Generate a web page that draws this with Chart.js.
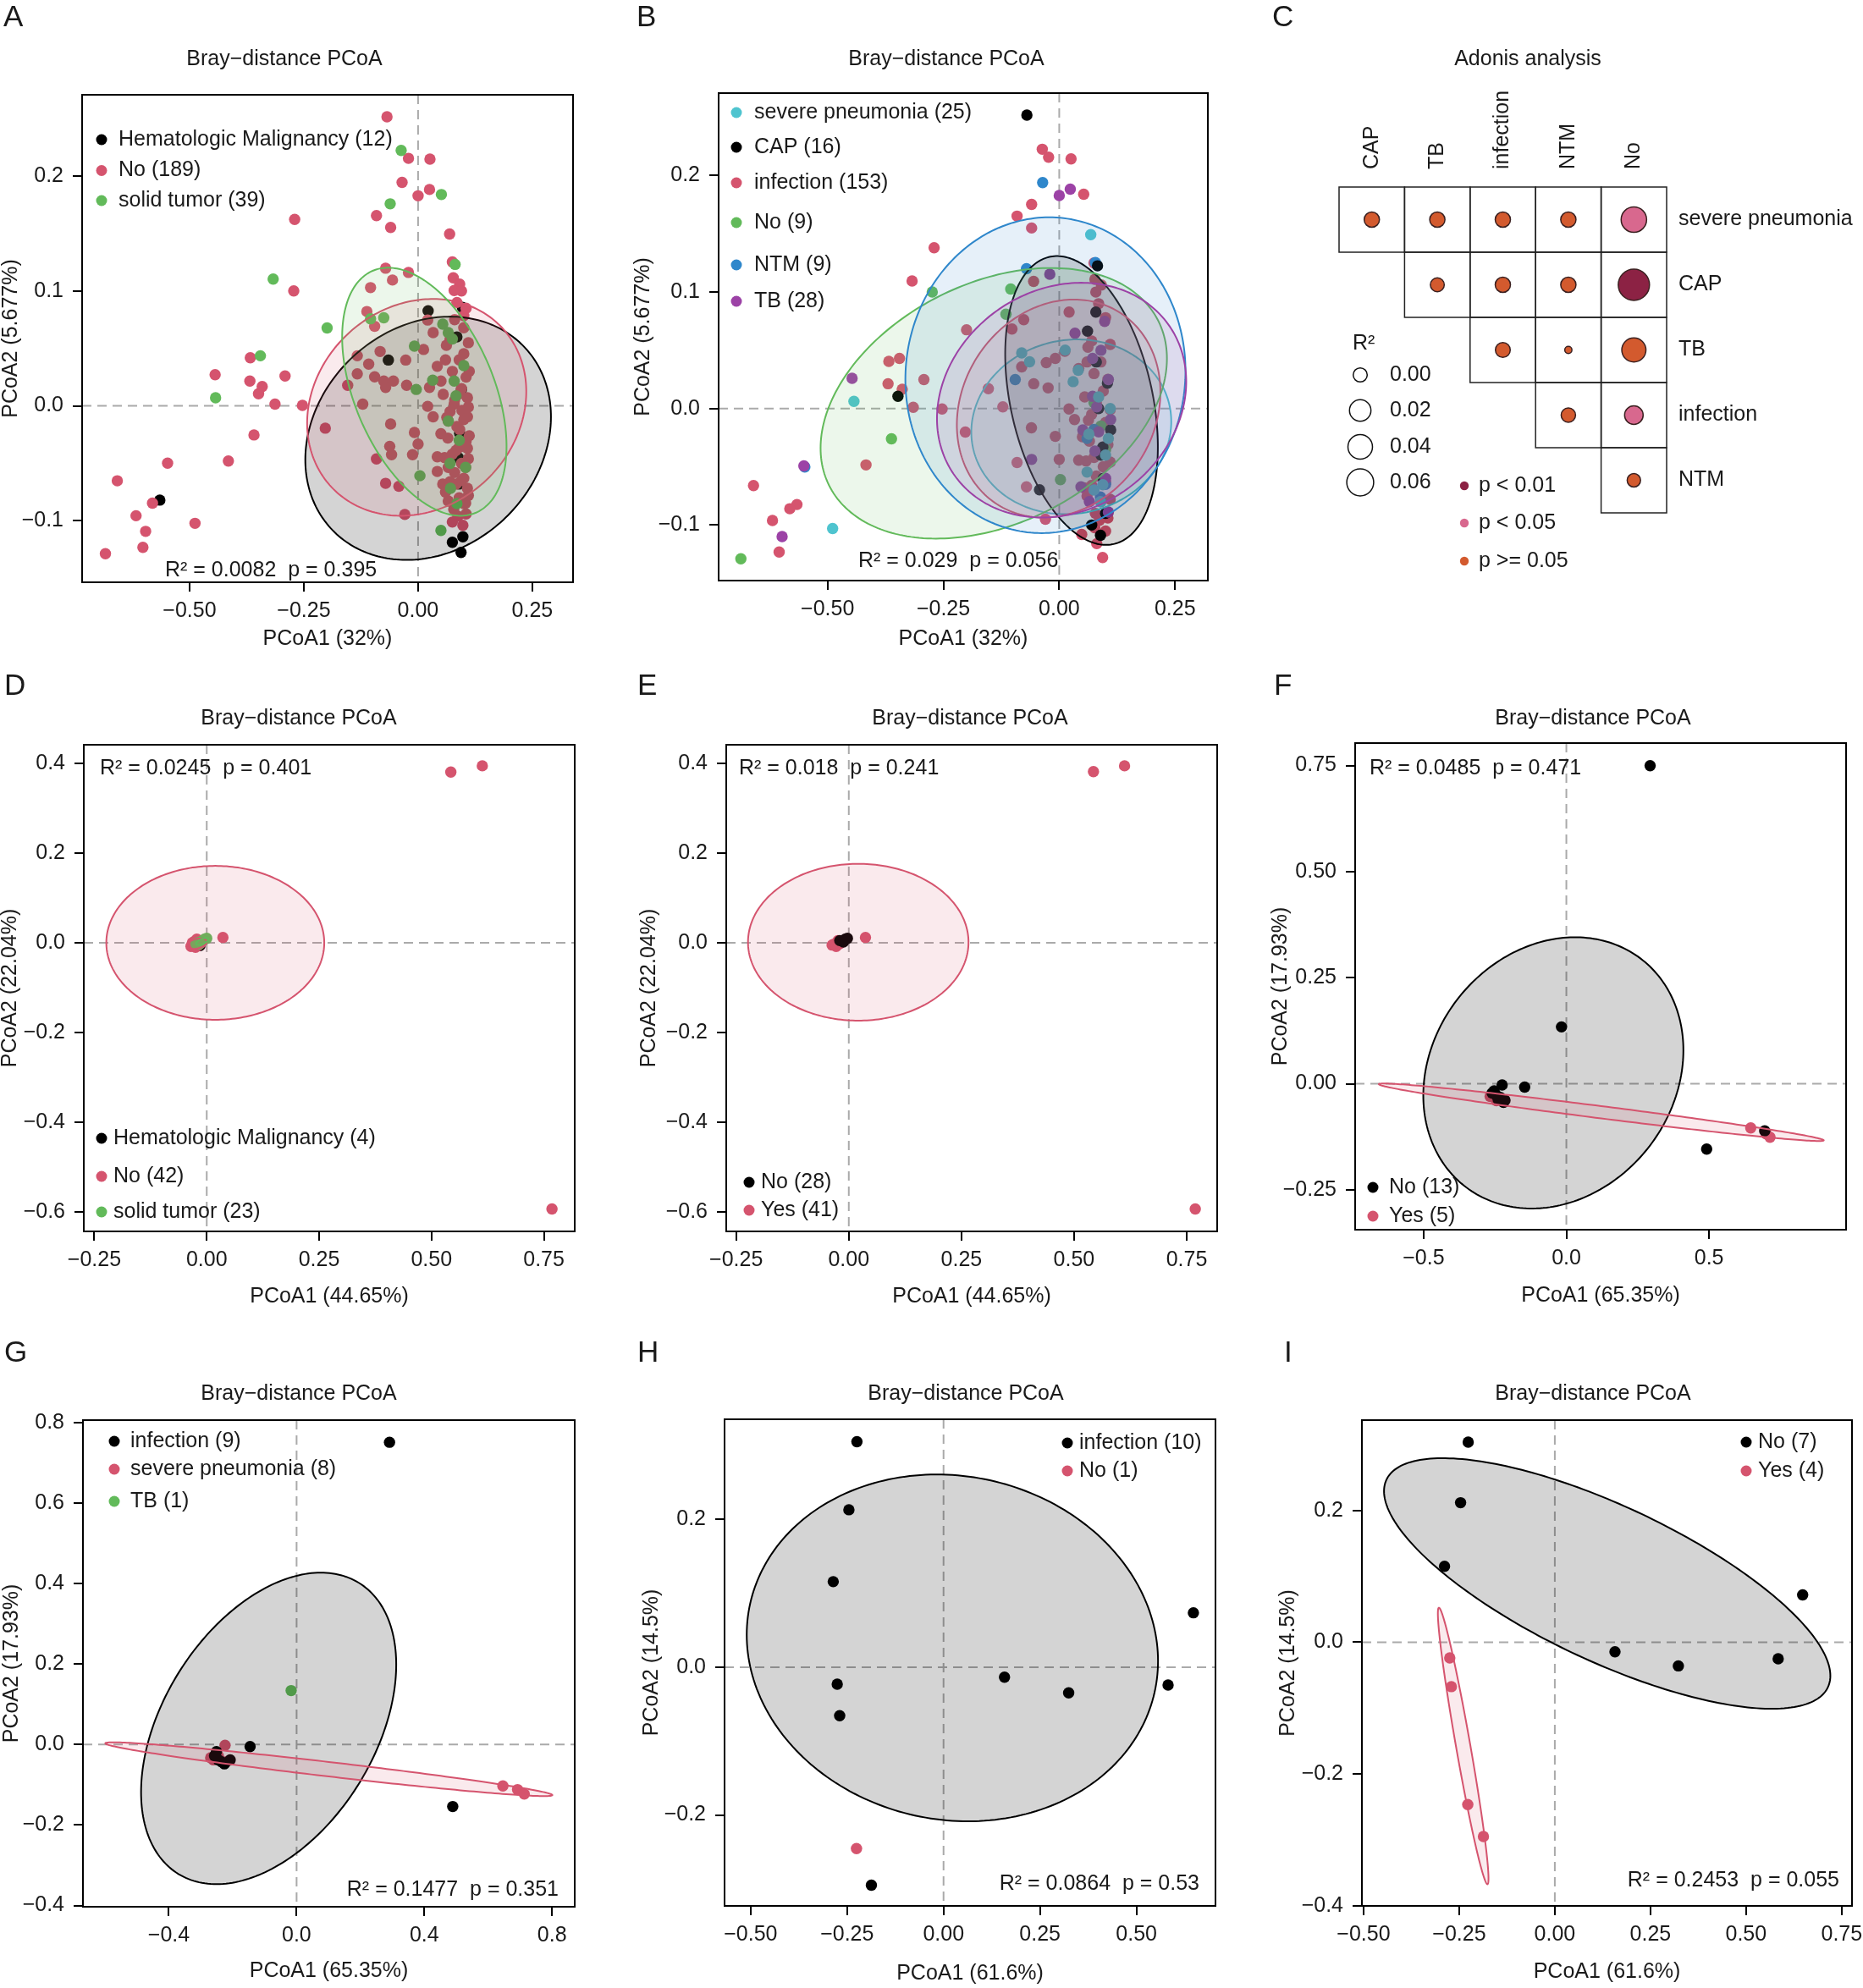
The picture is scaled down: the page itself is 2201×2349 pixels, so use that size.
<!DOCTYPE html>
<html>
<head>
<meta charset="utf-8">
<script src="https://cdn.jsdelivr.net/npm/chart.js@4.4.1/dist/chart.umd.min.js"></script>
<style>
html,body{margin:0;padding:0;background:#fff;overflow:hidden}
#page{position:relative;width:2201px;height:2349px;overflow:hidden;background:#fff}
canvas{position:absolute}
</style>
</head>
<body>
<div id="page"></div>
<script>
// ================= DATA =================
// colours
const C_BLACK = '#000000', C_RED = '#D5546E', C_GREEN = '#62BA5A', C_CYAN = '#4FC4CF', C_BLUE = '#2F87CB', C_PURPLE = '#9C42A6';

// ---- Panel A ----
const A_groups = ['Hematologic Malignancy', 'No', 'solid tumor'];
const A_counts = [12, 189, 39];
const A_HM = [[0.022,0.0828],[0.097,0.0857],[-0.065,0.0399],[-0.565,-0.082],[0.075,-0.1187],[0.098,-0.1139],[0.094,-0.1275],[0.095,0.0143],[0.091,-0.024],[0.09,-0.068],[0.088,-0.045],[0.085,0.06]];
const A_No = [[-0.068,0.2516],[-0.021,0.2154],[0.026,0.2147],[-0.035,0.1945],[0.025,0.1883],[0,0.1828],[-0.091,0.1656],[-0.06,0.1553],[-0.27,0.1623],[0.069,0.1495],[0.075,0.1253],[-0.071,0.1198],[-0.021,0.1161],[-0.056,0.1095],[0.077,0.1114],[0.091,0.1059],[0.079,0.1004],[-0.272,0.1],[-0.104,0.1029],[-0.112,0.0821],[-0.095,0.0692],[0.021,0.0747],[0.1,0.0784],[0.033,0.0637],[-0.083,0.0473],[-0.133,0.0436],[-0.108,0.0363],[-0.027,0.0399],[0.012,0.0491],[0.062,0.0527],[0.1,0.0454],[0.042,0.0344],[-0.133,0.0278],[-0.095,0.0253],[-0.075,0.0216],[-0.054,0.0216],[-0.071,0.0161],[-0.154,0.0179],[-0.025,0.0179],[0.025,0.0161],[0.05,0.0216],[0.091,0.0106],[0.108,0.007],[-0.121,0.0015],[0.021,-0.0004],[0.079,0.0015],[0.096,-0.004],[0.033,-0.0095],[0.066,-0.0132],[0.108,-0.0095],[-0.06,-0.0158],[-0.008,-0.0231],[0.05,-0.0242],[0.091,-0.0205],[0.112,-0.026],[-0.062,-0.0352],[0,-0.0333],[-0.012,-0.0425],[0.042,-0.0443],[0.083,-0.0388],[-0.091,-0.0462],[-0.058,-0.0425],[0.108,-0.037],[0.042,-0.0571],[0.066,-0.0535],[0.104,-0.0535],[-0.071,-0.0674],[-0.042,-0.07],[0.054,-0.0681],[0.083,-0.0681],[0.108,-0.0718],[0.066,-0.0828],[0.104,-0.0846],[-0.029,-0.0945],[0.075,-0.1011],[0.098,-0.104],[-0.203,-0.0194],[-0.253,0.0004],[-0.313,0.0015],[-0.291,0.026],[-0.368,0.0216],[-0.341,0.0168],[-0.349,0.0106],[-0.367,0.0418],[-0.444,0.0271],[-0.359,-0.0253],[-0.415,-0.048],[-0.548,-0.0498],[-0.658,-0.0652],[-0.581,-0.0846],[-0.617,-0.0956],[-0.596,-0.1092],[-0.602,-0.1231],[-0.488,-0.1022],[-0.684,-0.1286],
 [0.085,0.09],[0.1,0.068],[0.07,0.058],[0.11,0.055],[0.09,0.04],[0.075,0.03],[0.105,0.025],[0.095,0.015],[0.08,0.005],[0.11,-0.001],[0.07,-0.005],[0.1,-0.012],[0.085,-0.018],[0.065,-0.028],[0.105,-0.031],[0.09,-0.036],[0.075,-0.042],[0.11,-0.046],[0.095,-0.05],[0.08,-0.058],[0.1,-0.063],[0.07,-0.066],[0.11,-0.078],[0.09,-0.08],[0.078,-0.09],[0.105,-0.094],[0.087,-0.096],[0.06,-0.075],[0.058,-0.045],[0.063,-0.01],[0.055,0.01],[0.06,0.04],[0.095,0.1],[0.105,0.085],[0.08,0.075],[0.112,0.03],[0.095,-0.065],[0.1,-0.085]];
const A_ST = [[-0.037,0.2223],[0.051,0.1839],[-0.061,0.1758],[0.081,0.1231],[-0.317,0.1103],[-0.199,0.0678],[-0.345,0.0436],[-0.443,0.007],[-0.104,0.0758],[-0.075,0.0766],[0.054,0.0711],[0.066,0.0637],[0.075,0.0582],[-0.008,0.052],[0.032,0.0223],[0.079,0.0216],[-0.004,0.0143],[0.004,-0.0608],[0.05,-0.1084],[0.104,-0.0535],[0.071,-0.0718],[0.083,0.0088],[0.066,-0.0132],[0.1,0.035],[0.09,-0.03],[0.07,-0.05],[0.085,-0.085]];
// ellipses: [centre x, centre y, conjugate semi-axis u (x,y), conjugate semi-axis v (x,y)] in data units
const A_ellHM = [0.022, -0.0282, 0.2687, 0.0187, 0, 0.1042];
const A_ellNo = [-0.003, -0.0013, 0.2397, 0.0138, 0, 0.0933];
const A_ellST = [0.0137, 0.0123, 0.1798, -0.0475, 0, 0.0969];
const A_xTicks = [-0.5, -0.25, 0, 0.25];
const A_yTicks = [-0.1, 0, 0.1, 0.2];
const A_stat = [0.0082, 0.395];

// ---- Panel B ----
const B_groups = ['severe pneumonia', 'CAP', 'infection', 'No', 'NTM', 'TB'];
const B_counts = [25, 16, 153, 9, 9, 28];
const B_SP = [[0.068,0.1493],[-0.443,0.0061],[-0.489,-0.103],[0.0128,0.0502],[-0.081,0.0477],[-0.064,0.0401],[0.041,0.0329],[0.03,0.0231],[0.064,-0.022],[0.106,-0.0257],[0.06,-0.0546],[0.094,-0.0654],[0.089,-0.0799],[0.1,-0.04],[0.075,-0.07],[0.11,0.0],[0.085,0.01]];
const B_CAP = [[-0.0698,0.2519],[0.0826,0.1225],[-0.348,0.0105],[-0.0426,-0.0698],[0.104,0.0217],[0.079,0.0828],[0.061,0.0665],[0.111,-0.0184],[0.094,-0.033],[0.089,-0.1088],[0.09,-0.04],[0.1,-0.09],[0.08,0.04],[0.095,-0.06],[0.085,0.0],[0.07,-0.1]];
const B_Inf = [[-0.0366,0.2226],[-0.023,0.2158],[0.0255,0.2143],[0.0528,0.184],[-0.0596,0.1753],[-0.091,0.1652],[-0.0596,0.155],[-0.27,0.138],[-0.3175,0.1095],[-0.0553,0.1091],[-0.2,0.0676],[-0.0766,0.0763],[-0.102,0.0683],[0.0213,0.0828],[-0.3677,0.0405],[-0.3447,0.043],[-0.292,0.0249],[-0.3694,0.0213],[-0.3388,0.0166],[-0.315,0.0011],[-0.2528,-0.0004],[-0.1217,0.0014],[-0.153,0.017],[-0.2026,-0.0202],[-0.081,0.0358],[-0.055,0.0213],[-0.024,0.0177],[-0.0085,0.043],[-0.028,0.0394],[-0.06,-0.0166],[-0.0085,-0.0239],[-0.091,-0.0463],[-0.0707,-0.0672],[-0.0298,-0.095],[0,-0.0437],[-0.417,-0.0484],[-0.6597,-0.0661],[-0.566,-0.0824],[-0.5814,-0.086],[-0.6188,-0.0961],[-0.6044,-0.1232],[0.0485,-0.1081],[0.0766,-0.1023],[0.1,-0.1052],[0.0936,-0.1279],[0.081,-0.116],
 [0.075,0.125],[0.077,0.111],[0.091,0.106],[0.079,0.1],[0.085,0.09],[0.1,0.078],[0.07,0.058],[0.11,0.055],[0.09,0.04],[0.062,0.0527],[0.075,0.03],[0.105,0.025],[0.095,0.015],[0.08,0.005],[0.11,-0.001],[0.07,-0.005],[0.1,-0.012],[0.085,-0.018],[0.065,-0.028],[0.105,-0.031],[0.09,-0.036],[0.075,-0.042],[0.11,-0.046],[0.095,-0.05],[0.08,-0.058],[0.1,-0.063],[0.07,-0.066],[0.11,-0.078],[0.09,-0.08],[0.078,-0.09],[0.105,-0.094],[0.087,-0.096],[0.06,-0.075],[0.058,-0.045],[0.063,-0.01],[0.055,0.01],[0.06,0.04],[0.042,0.0344],[0.033,-0.0095],[0.05,-0.0242],[0.042,-0.0443],[0.054,-0.0681],[0.021,-0.0004],[0.012,0.0491]];
const B_No = [[-0.274,0.1001],[-0.1047,0.1026],[-0.115,0.081],[-0.362,-0.026],[0.0026,-0.0611],[-0.687,-0.129],[0.09,-0.015],[0.075,0.005],[0.1,-0.035]];
const B_NTM = [[-0.0358,0.194],[-0.0707,0.12],[0.078,0.1254],[-0.095,0.0249],[-0.549,-0.0502],[0.089,-0.076],[0.06,-0.0257],[0.075,-0.018],[0.1,-0.065]];
const B_TB = [[0,0.1829],[0.0238,0.1883],[-0.0204,0.1153],[-0.447,0.026],[-0.551,-0.0492],[-0.598,-0.1099],[0.098,0.0748],[0.072,0.043],[0.034,0.0647],[0.106,0.0249],[0.072,0.0105],[0.081,0.0014],[0.111,-0.0094],[0.051,-0.0184],[-0.0596,-0.0437],[0.047,-0.0672],[0.106,-0.0889],[0.077,-0.0365],[0.09,0.05],[0.1,-0.06],[0.085,-0.02],[0.065,-0.08]];
const B_ellSP = [0.026, -0.0157, 0.2157, 0.0045, 0, 0.0749];
const B_ellCAP = [0.0481, 0.0069, 0.1647, -0.0398, 0, 0.1174];
const B_ellInf = [-0.0013, 0, 0.2196, 0.0141, 0, 0.0925];
const B_ellNo = [-0.1413, 0.0045, 0.3737, 0.0385, 0, 0.1096];
const B_ellNTM = [-0.0298, 0.0286, 0.3022, 0.0036, 0, 0.1355];
const B_ellTB = [0.0051, 0.0072, 0.2689, 0.0159, 0, 0.0995];
const B_stat = [0.029, 0.056];

// ---- Panel C (Adonis) ----
const C_rows = ['severe pneumonia', 'CAP', 'TB', 'infection', 'NTM'];
const C_cols = ['CAP', 'TB', 'infection', 'NTM', 'No'];
const C_R2 = [
  [0.012, 0.012, 0.012, 0.012, 0.048],
  [null, 0.009, 0.012, 0.012, 0.079],
  [null, null, 0.011, 0.0005, 0.042],
  [null, null, null, 0.010, 0.021],
  [null, null, null, null, 0.008]];
const C_sig = [
  ['ns', 'ns', 'ns', 'ns', 'p05'],
  [null, 'ns', 'ns', 'ns', 'p01'],
  [null, null, 'ns', 'ns', 'ns'],
  [null, null, null, 'ns', 'p05'],
  [null, null, null, null, 'ns']];
const C_legR2 = [0.00, 0.02, 0.04, 0.06];
const C_legP = ['p < 0.01', 'p < 0.05', 'p >= 0.05'];
const C_legPkeys = ['p01', 'p05', 'ns'];

// ---- Panel D ----
const D_groups = ['Hematologic Malignancy', 'No', 'solid tumor'];
const D_counts = [4, 42, 23];
const D_HM = [[-0.025,-0.004],[-0.02,0.0],[-0.015,-0.006],[-0.028,0.002]];
const D_No = [[0.543,0.381],[0.613,0.395],[0.768,-0.594],[0.036,0.012],[-0.035,-0.008],[-0.03,-0.004],[-0.027,0.003],[-0.022,0.008],[-0.018,0.004],[-0.025,-0.01],[-0.015,-0.002],[-0.032,0.0],[-0.02,-0.006],[-0.012,0.001]];
const D_ST = [[-0.005,0.008],[0.0,0.01],[-0.012,0.003],[-0.02,0.0],[-0.017,-0.003],[-0.008,0.005],[-0.024,-0.002]];
const D_ellNo = [0.019, 0.0, 0.2424, 0, 0, 0.1717];
const D_ellNoCore = [-0.022, -0.002, 0.022, 0.004, 0, 0.011];
const D_ellST = [-0.01, 0.003, 0.014, 0.005, 0, 0.006];
const D_xTicks = [-0.25, 0, 0.25, 0.5, 0.75];
const D_yTicks = [-0.6, -0.4, -0.2, 0, 0.2, 0.4];
const D_stat = [0.0245, 0.401];

// ---- Panel E ----
const E_groups = ['No', 'Yes'];
const E_counts = [28, 41];
const E_No = [[-0.003,0.01],[-0.02,0.005],[-0.012,0.002],[-0.008,0.008]];
const E_Yes = [[0.543,0.382],[0.612,0.395],[0.769,-0.594],[0.037,0.012],[-0.033,-0.003],[-0.024,0.005],[-0.037,-0.005],[-0.028,-0.008],[-0.02,-0.002]];
const E_ellYes = [0.021, 0.0014, 0.2447, 0, 0, 0.175];
const E_ellNo = [-0.012, 0.004, 0.014, 0.004, 0, 0.007];
const E_stat = [0.018, 0.241];

// ---- Panel F ----
const F_groups = ['No', 'Yes'];
const F_counts = [13, 5];
const F_No = [[0.2935,0.7495],[-0.017,0.134],[-0.225,-0.003],[-0.146,-0.008],[-0.253,-0.017],[-0.239,-0.037],[-0.22,-0.044],[-0.246,-0.027],[0.4916,-0.154],[0.695,-0.111],[-0.232,-0.032],[-0.26,-0.022],[-0.215,-0.039]];
const F_Yes = [[-0.267,-0.030],[-0.245,-0.04],[0.646,-0.104],[0.70,-0.118],[0.7135,-0.126]];
const F_ellNo = [-0.0456, 0.0256, 0.4556, 0.0534, 0, 0.3152];
const F_ellYes = [0.1223, -0.0672, 0.7795, -0.0662, 0, 0.0145];
const F_xTicks = [-0.5, 0, 0.5];
const F_yTicks = [-0.25, 0, 0.25, 0.5, 0.75];
const F_stat = [0.0485, 0.471];

// ---- Panel G ----
const G_groups = ['infection', 'severe pneumonia', 'TB'];
const G_counts = [9, 8, 1];
const G_Inf = [[0.291,0.751],[0.489,-0.154],[-0.1456,-0.005],[-0.251,-0.0175],[-0.245,-0.038],[-0.226,-0.048],[-0.208,-0.038],[-0.257,-0.028],[-0.235,-0.043]];
const G_SP = [[-0.224,-0.002],[-0.269,-0.033],[0.646,-0.103],[0.692,-0.112],[0.713,-0.123],[-0.245,-0.028],[-0.26,-0.038],[-0.22,-0.043]];
const G_TB = [[-0.017,0.134]];
const G_ellInf = [-0.0875, 0.0401, 0.3995, 0.1585, 0, 0.353];
const G_ellSP = [0.101, -0.0613, 0.7, -0.0643, 0, 0.018];
const G_xTicks = [-0.4, 0, 0.4, 0.8];
const G_yTicks = [-0.4, -0.2, 0, 0.2, 0.4, 0.6, 0.8];
const G_stat = [0.1477, 0.351];

// ---- Panel H ----
const H_groups = ['infection', 'No'];
const H_counts = [10, 1];
const H_Inf = [[-0.2245,0.305],[-0.2453,0.213],[-0.2859,0.1157],[-0.2755,-0.023],[-0.2692,-0.0657],[-0.187,-0.295],[0.158,-0.0135],[0.3243,-0.0348],[0.582,-0.0242],[0.6476,0.0736]];
const H_No = [[-0.2256,-0.2455]];
const H_ellInf = [0.0229, 0.0261, 0.533, -0.0177, 0, 0.2339];
const H_xTicks = [-0.5, -0.25, 0, 0.25, 0.5];
const H_yTicks = [-0.2, 0, 0.2];
const H_stat = [0.0864, 0.53];

// ---- Panel I ----
const I_groups = ['No', 'Yes'];
const I_counts = [7, 4];
const I_No = [[-0.2265,0.3035],[-0.2464,0.2116],[-0.2884,0.1152],[0.1573,-0.0145],[0.323,-0.0359],[0.584,-0.0252],[0.648,0.0718]];
const I_Yes = [[-0.2747,-0.0239],[-0.2705,-0.0674],[-0.2276,-0.2462],[-0.1867,-0.2947]];
const I_ellNo = [0.1369, 0.0891, 0.5835, -0.14, 0, 0.1285];
const I_ellYes = [-0.2396, -0.1574, -0.0634, 0.2097, 0.019, 0];
const I_xTicks = [-0.5, -0.25, 0, 0.25, 0.5, 0.75];
const I_yTicks = [-0.4, -0.2, 0, 0.2];
const I_stat = [0.2453, 0.055];

// ================= RENDERING =================
const FONT = '"Liberation Sans", Arial, Helvetica, sans-serif';
const TXT = '#1a1a1a';
const PT_R = 6.7;
Chart.defaults.font.family = FONT;
Chart.defaults.font.size = 25;
Chart.defaults.color = TXT;

function fmt(v, d) { const s = Math.abs(v).toFixed(d); return (v < -1e-9 ? '\u2212' : '') + s; }
function rgba(hex, a) { const n = parseInt(hex.slice(1), 16); return 'rgba(' + ((n >> 16) & 255) + ',' + ((n >> 8) & 255) + ',' + (n & 255) + ',' + a + ')'; }
function statText(s) { return 'R\u00B2 = ' + s[0] + '  p = ' + s[1]; }
function addCanvas(x, y, w, h) {
  const cv = document.createElement('canvas');
  cv.width = w; cv.height = h;
  cv.style.left = x + 'px'; cv.style.top = y + 'px';
  cv.style.width = w + 'px'; cv.style.height = h + 'px';
  document.getElementById('page').appendChild(cv);
  return cv;
}

function decor(p) {
  const cx = p.canvas[0], cy = p.canvas[1];
  return {
    id: 'decor',
    beforeDatasetsDraw(chart) {
      const ctx = chart.ctx, ca = chart.chartArea, xs = chart.scales.x, ys = chart.scales.y;
      ctx.save();
      ctx.setLineDash([11, 7]); ctx.strokeStyle = '#aaaaaa'; ctx.lineWidth = 2;
      const x0 = xs.getPixelForValue(0), y0 = ys.getPixelForValue(0);
      ctx.beginPath();
      ctx.moveTo(x0, ca.top); ctx.lineTo(x0, ca.bottom);
      ctx.moveTo(ca.left, y0); ctx.lineTo(ca.right, y0);
      ctx.stroke();
      ctx.restore();
    },
    afterDatasetsDraw(chart) {
      const ctx = chart.ctx, ca = chart.chartArea, xs = chart.scales.x, ys = chart.scales.y;
      ctx.save();
      ctx.beginPath(); ctx.rect(ca.left, ca.top, ca.width, ca.height); ctx.clip();
      for (const e of p.ellipses) {
        const [ex, ey, ux, uy, vx, vy] = e.par;
        ctx.beginPath();
        for (let i = 0; i <= 240; i++) {
          const t = i / 240 * 2 * Math.PI, c = Math.cos(t), s = Math.sin(t);
          const X = xs.getPixelForValue(ex + ux * c + vx * s);
          const Y = ys.getPixelForValue(ey + uy * c + vy * s);
          if (i === 0) ctx.moveTo(X, Y); else ctx.lineTo(X, Y);
        }
        ctx.closePath();
        ctx.fillStyle = rgba(e.color, e.alpha); ctx.fill();
        ctx.strokeStyle = e.color; ctx.lineWidth = 2; ctx.stroke();
      }
      ctx.restore();
    },
    afterDraw(chart) {
      const ctx = chart.ctx, ca = chart.chartArea;
      ctx.save();
      ctx.strokeStyle = '#000'; ctx.lineWidth = 2;
      ctx.strokeRect(ca.left, ca.top, ca.width, ca.height);
      ctx.fillStyle = TXT;
      // title
      ctx.font = '25px ' + FONT; ctx.textAlign = 'center'; ctx.textBaseline = 'middle';
      ctx.fillText('Bray\u2212distance PCoA', p.title[0] - cx, p.title[1] - cy);
      // letter
      ctx.font = '35px ' + FONT; ctx.textAlign = 'left'; ctx.textBaseline = 'alphabetic';
      ctx.fillText(p.letter[0], p.letter[1] - cx, p.letter[2] - cy);
      // statistic
      ctx.font = '25px ' + FONT; ctx.textAlign = p.stat.align; ctx.textBaseline = 'middle';
      ctx.fillText(statText(p.stat.v), p.stat.x - cx, p.stat.y - cy);
      // legend
      ctx.textAlign = 'left';
      p.groups.forEach((g, i) => {
        const y = p.legend.ys[i] - cy;
        ctx.fillStyle = g.color; ctx.beginPath();
        ctx.arc(p.legend.dotX - cx, y, 6.5, 0, 2 * Math.PI); ctx.fill();
        ctx.fillStyle = TXT;
        ctx.fillText(g.name + ' (' + g.count + ')', p.legend.textX - cx, y);
      });
      ctx.restore();
    }
  };
}

function pcoa(p) {
  const [cx, cy, cw, ch] = p.canvas;
  const [bl, bt, bw, bh] = p.box;
  const cv = addCanvas(cx, cy, cw, ch);
  const yW = bl - cx, xH = (cy + ch) - (bt + bh);
  const tickFont = { size: 25, family: FONT };
  new Chart(cv, {
    type: 'scatter',
    data: {
      datasets: p.groups.map(g => ({
        label: g.name, data: g.data, backgroundColor: g.color, borderWidth: 0,
        pointRadius: PT_R, pointHoverRadius: PT_R, order: g.order
      }))
    },
    options: {
      responsive: false, animation: false, events: [], devicePixelRatio: 1,
      layout: { padding: { left: 0, top: bt - cy, right: (cx + cw) - (bl + bw), bottom: 0 } },
      plugins: { legend: { display: false }, tooltip: { enabled: false }, title: { display: false } },
      scales: {
        x: {
          type: 'linear', position: 'bottom', min: p.xr[0], max: p.xr[1],
          afterBuildTicks: s => { s.ticks = p.xt.map(v => ({ value: v })); },
          afterFit: s => { s.height = xH; },
          ticks: { callback: v => fmt(v, p.xd), font: tickFont, color: TXT, padding: 8, maxRotation: 0, minRotation: 0, autoSkip: false },
          grid: { display: true, drawOnChartArea: false, drawTicks: true, tickLength: 11, color: '#000', tickColor: '#000', lineWidth: 2, tickWidth: 2 },
          border: { display: false },
          title: { display: true, text: p.xTitle, font: tickFont, color: TXT, padding: { top: 0, bottom: (cy + ch) - p.xTitleY - 15 } }
        },
        y: {
          type: 'linear', position: 'left', min: p.yr[0], max: p.yr[1],
          afterBuildTicks: s => { s.ticks = p.yt.map(v => ({ value: v })); },
          afterFit: s => { s.width = yW; },
          ticks: { callback: v => fmt(v, p.yd), font: tickFont, color: TXT, padding: 11, autoSkip: false },
          grid: { display: true, drawOnChartArea: false, drawTicks: true, tickLength: 11, color: '#000', tickColor: '#000', lineWidth: 2, tickWidth: 2 },
          border: { display: false },
          title: { display: true, text: p.yTitle, font: tickFont, color: TXT, padding: { top: p.yTitleX - cx - 15, bottom: 0 } }
        }
      }
    },
    plugins: [decor(p)]
  });
}

function grp(names, counts, datas, colors, orders) {
  return names.map((n, i) => ({ name: n, count: counts[i], data: datas[i], color: colors[i], order: orders[i] }));
}
const GRAY_A = 0.17, COL_A = 0.12;

// Panel A
pcoa({
  canvas: [-20, 0, 780, 790], box: [97, 112, 580, 576],
  xr: [-0.735, 0.339], yr: [-0.1535, 0.2707], xt: A_xTicks, yt: A_yTicks, xd: 2, yd: 1,
  xTitle: 'PCoA1 (32%)', yTitle: 'PCoA2 (5.677%)', xTitleY: 755, yTitleX: 13,
  title: [336, 70], letter: ['A', 4, 31],
  stat: { v: A_stat, x: 195, y: 674, align: 'left' },
  legend: { dotX: 120, textX: 140, ys: [165, 201.5, 237] },
  groups: grp(A_groups, A_counts, [A_HM, A_No, A_ST], [C_BLACK, C_RED, C_GREEN], [3, 2, 1]),
  ellipses: [{ par: A_ellHM, color: C_BLACK, alpha: GRAY_A }, { par: A_ellNo, color: C_RED, alpha: COL_A }, { par: A_ellST, color: C_GREEN, alpha: COL_A }]
});

// Panel B
pcoa({
  canvas: [710, 0, 780, 790], box: [849, 110, 578, 576],
  xr: [-0.735, 0.3207], yr: [-0.1477, 0.2708], xt: A_xTicks, yt: A_yTicks, xd: 2, yd: 1,
  xTitle: 'PCoA1 (32%)', yTitle: 'PCoA2 (5.677%)', xTitleY: 755, yTitleX: 760,
  title: [1118, 70], letter: ['B', 752, 31],
  stat: { v: B_stat, x: 1014, y: 663, align: 'left' },
  legend: { dotX: 870, textX: 891, ys: [133, 174, 216, 263, 313, 356] },
  groups: grp(B_groups, B_counts, [B_SP, B_CAP, B_Inf, B_No, B_NTM, B_TB], [C_CYAN, C_BLACK, C_RED, C_GREEN, C_BLUE, C_PURPLE], [1, 2, 5, 3, 2, 1]),
  ellipses: [{ par: B_ellSP, color: C_CYAN, alpha: COL_A }, { par: B_ellCAP, color: C_BLACK, alpha: GRAY_A }, { par: B_ellInf, color: C_RED, alpha: COL_A },
             { par: B_ellNo, color: C_GREEN, alpha: COL_A }, { par: B_ellNTM, color: C_BLUE, alpha: COL_A }, { par: B_ellTB, color: C_PURPLE, alpha: COL_A }]
});

// Panel D
pcoa({
  canvas: [-20, 790, 780, 790], box: [99, 880, 580, 575],
  xr: [-0.2735, 0.8186], yr: [-0.644, 0.442], xt: D_xTicks, yt: D_yTicks, xd: 2, yd: 1,
  xTitle: 'PCoA1 (44.65%)', yTitle: 'PCoA2 (22.04%)', xTitleY: 1532, yTitleX: 12,
  title: [353, 849], letter: ['D', 5, 821],
  stat: { v: D_stat, x: 118, y: 908, align: 'left' },
  legend: { dotX: 120, textX: 134, ys: [1345, 1390, 1432] },
  groups: grp(D_groups, D_counts, [D_HM, D_No, D_ST], [C_BLACK, C_RED, C_GREEN], [3, 2, 1]),
  ellipses: [{ par: D_ellNo, color: C_RED, alpha: COL_A }, { par: D_ellNoCore, color: C_RED, alpha: COL_A }, { par: D_ellST, color: C_GREEN, alpha: COL_A }]
});

// Panel E
pcoa({
  canvas: [710, 790, 780, 790], box: [858, 880, 580, 575],
  xr: [-0.272, 0.8176], yr: [-0.644, 0.442], xt: D_xTicks, yt: D_yTicks, xd: 2, yd: 1,
  xTitle: 'PCoA1 (44.65%)', yTitle: 'PCoA2 (22.04%)', xTitleY: 1532, yTitleX: 767,
  title: [1146, 849], letter: ['E', 753, 821],
  stat: { v: E_stat, x: 873, y: 908, align: 'left' },
  legend: { dotX: 885, textX: 899, ys: [1397, 1430] },
  groups: grp(E_groups, E_counts, [E_No, E_Yes], [C_BLACK, C_RED], [1, 2]),
  ellipses: [{ par: E_ellNo, color: C_BLACK, alpha: GRAY_A }, { par: E_ellYes, color: C_RED, alpha: COL_A }]
});

// Panel F
pcoa({
  canvas: [1440, 790, 780, 790], box: [1601, 878, 580, 575],
  xr: [-0.740, 0.980], yr: [-0.344, 0.803], xt: F_xTicks, yt: F_yTicks, xd: 1, yd: 2,
  xTitle: 'PCoA1 (65.35%)', yTitle: 'PCoA2 (17.93%)', xTitleY: 1531, yTitleX: 1513,
  title: [1882, 849], letter: ['F', 1505, 821],
  stat: { v: F_stat, x: 1618, y: 908, align: 'left' },
  legend: { dotX: 1622, textX: 1641, ys: [1403, 1437] },
  groups: grp(F_groups, F_counts, [F_No, F_Yes], [C_BLACK, C_RED], [1, 2]),
  ellipses: [{ par: F_ellNo, color: C_BLACK, alpha: GRAY_A }, { par: F_ellYes, color: C_RED, alpha: COL_A }]
});

// Panel G
pcoa({
  canvas: [-20, 1580, 780, 769], box: [98, 1678, 581, 575],
  xr: [-0.669, 0.871], yr: [-0.403, 0.806], xt: G_xTicks, yt: G_yTicks, xd: 1, yd: 1,
  xTitle: 'PCoA1 (65.35%)', yTitle: 'PCoA2 (17.93%)', xTitleY: 2329, yTitleX: 14,
  title: [353, 1647], letter: ['G', 5, 1609],
  stat: { v: G_stat, x: 660, y: 2233, align: 'right' },
  legend: { dotX: 135, textX: 154, ys: [1703, 1736, 1774] },
  groups: grp(G_groups, G_counts, [G_Inf, G_SP, G_TB], [C_BLACK, C_RED, C_GREEN], [1, 2, 0]),
  ellipses: [{ par: G_ellInf, color: C_BLACK, alpha: GRAY_A }, { par: G_ellSP, color: C_RED, alpha: COL_A }]
});

// Panel H
pcoa({
  canvas: [710, 1580, 780, 769], box: [856, 1677, 580, 575],
  xr: [-0.5676, 0.7048], yr: [-0.323, 0.3354], xt: H_xTicks, yt: H_yTicks, xd: 2, yd: 1,
  xTitle: 'PCoA1 (61.6%)', yTitle: 'PCoA2 (14.5%)', xTitleY: 2332, yTitleX: 770,
  title: [1141, 1647], letter: ['H', 753, 1609],
  stat: { v: H_stat, x: 1417, y: 2226, align: 'right' },
  legend: { dotX: 1261, textX: 1275, ys: [1705, 1738] },
  groups: grp(H_groups, H_counts, [H_Inf, H_No], [C_BLACK, C_RED], [1, 2]),
  ellipses: [{ par: H_ellInf, color: C_BLACK, alpha: GRAY_A }]
});

// Panel I
pcoa({
  canvas: [1440, 1580, 780, 769], box: [1609, 1678, 579, 574],
  xr: [-0.5044, 0.777], yr: [-0.400, 0.3369], xt: I_xTicks, yt: I_yTicks, xd: 2, yd: 1,
  xTitle: 'PCoA1 (61.6%)', yTitle: 'PCoA2 (14.5%)', xTitleY: 2330, yTitleX: 1522,
  title: [1882, 1647], letter: ['I', 1517, 1609],
  stat: { v: I_stat, x: 2173, y: 2222, align: 'right' },
  legend: { dotX: 2063, textX: 2077, ys: [1704, 1738] },
  groups: grp(I_groups, I_counts, [I_No, I_Yes], [C_BLACK, C_RED], [1, 2]),
  ellipses: [{ par: I_ellNo, color: C_BLACK, alpha: GRAY_A }, { par: I_ellYes, color: C_RED, alpha: COL_A }]
});

// Panel C : Adonis bubble matrix
(function () {
  const cx = 1440, cy = 0, cw = 780, ch = 790;
  const gl = 1582, gt = 221, gr = 1969, gb = 606;
  const SIGCOL = { ns: '#D35A2E', p05: '#D8688E', p01: '#8C2244' };
  const rad = v => 3 + 55 * Math.sqrt(v);
  const legRad = v => 8.3 + 31 * Math.sqrt(v);
  const pts = [];
  C_R2.forEach((row, i) => row.forEach((v, j) => { if (v !== null) pts.push({ x: j, y: i, R2: v, sig: C_sig[i][j] }); }));
  const cv = addCanvas(cx, cy, cw, ch);
  const plug = {
    id: 'cdecor',
    beforeDatasetsDraw(chart) {
      const ctx = chart.ctx, xs = chart.scales.x, ys = chart.scales.y;
      ctx.save(); ctx.strokeStyle = '#222'; ctx.lineWidth = 1.5;
      pts.forEach(pt => {
        const x0 = xs.getPixelForValue(pt.x - 0.5), x1 = xs.getPixelForValue(pt.x + 0.5);
        const y0 = ys.getPixelForValue(pt.y - 0.5), y1 = ys.getPixelForValue(pt.y + 0.5);
        ctx.strokeRect(Math.min(x0, x1), Math.min(y0, y1), Math.abs(x1 - x0), Math.abs(y1 - y0));
      });
      ctx.restore();
    },
    afterDraw(chart) {
      const ctx = chart.ctx, xs = chart.scales.x;
      ctx.save(); ctx.fillStyle = TXT;
      ctx.font = '25px ' + FONT;
      // column labels (rotated)
      C_cols.forEach((c, j) => {
        ctx.save();
        ctx.translate(xs.getPixelForValue(j), 200 - cy);
        ctx.rotate(-Math.PI / 2);
        ctx.textAlign = 'left'; ctx.textBaseline = 'middle';
        ctx.fillText(c, 0, 0);
        ctx.restore();
      });
      ctx.textAlign = 'center'; ctx.textBaseline = 'middle';
      ctx.fillText('Adonis analysis', 1805 - cx, 70 - cy);
      ctx.font = '35px ' + FONT; ctx.textAlign = 'left'; ctx.textBaseline = 'alphabetic';
      ctx.fillText('C', 1503 - cx, 31 - cy);
      // R2 legend
      ctx.font = '25px ' + FONT; ctx.textBaseline = 'middle';
      ctx.fillText('R\u00B2', 1598 - cx, 406 - cy);
      const ly = [443, 485, 528, 570];
      C_legR2.forEach((v, i) => {
        ctx.beginPath(); ctx.arc(1607 - cx, ly[i] - cy, legRad(v), 0, 2 * Math.PI);
        ctx.strokeStyle = '#111'; ctx.lineWidth = 1.5; ctx.stroke();
        ctx.fillStyle = TXT; ctx.fillText(v.toFixed(2), 1642 - cx, ly[i] - cy);
      });
      // p legend
      const py = [574, 618, 663];
      C_legP.forEach((t, i) => {
        ctx.fillStyle = SIGCOL[C_legPkeys[i]];
        ctx.beginPath(); ctx.arc(1730 - cx, py[i] - cy, 5.2, 0, 2 * Math.PI); ctx.fill();
        ctx.fillStyle = TXT; ctx.fillText(t, 1747 - cx, py[i] - cy);
      });
      ctx.restore();
    }
  };
  new Chart(cv, {
    type: 'scatter',
    data: { datasets: [{
      data: pts,
      pointRadius: c => (c.raw ? rad(c.raw.R2) : 0),
      pointHoverRadius: c => (c.raw ? rad(c.raw.R2) : 0),
      backgroundColor: c => (c.raw ? SIGCOL[c.raw.sig] : '#000'),
      borderColor: '#3a2020', borderWidth: 1.5
    }] },
    options: {
      responsive: false, animation: false, events: [], devicePixelRatio: 1,
      layout: { padding: { left: gl - cx, top: gt - cy, right: 0, bottom: (cy + ch) - gb } },
      plugins: { legend: { display: false }, tooltip: { enabled: false } },
      scales: {
        x: { type: 'linear', min: -0.5, max: 4.5, display: false },
        y: {
          type: 'linear', position: 'right', min: -0.5, max: 4.5, reverse: true,
          afterBuildTicks: s => { s.ticks = C_rows.map((_, i) => ({ value: i })); },
          afterFit: s => { s.width = (cx + cw) - gr; },
          ticks: { callback: v => C_rows[v], padding: 14, font: { size: 25, family: FONT }, color: TXT, autoSkip: false },
          grid: { display: false, drawTicks: false },
          border: { display: false }
        }
      }
    },
    plugins: [plug]
  });
})();
</script>
</body>
</html>
